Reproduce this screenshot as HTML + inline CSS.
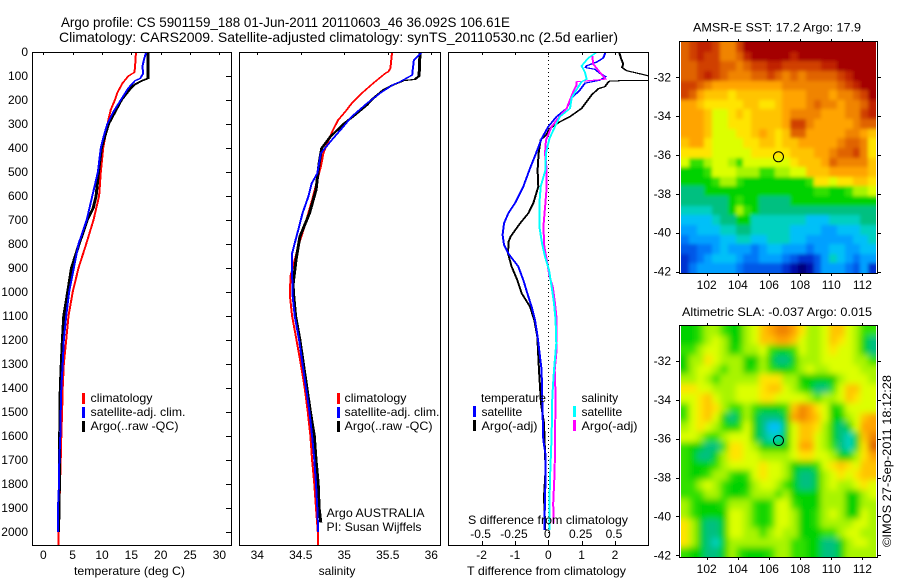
<!DOCTYPE html>
<html>
<head>
<meta charset="utf-8">
<title>Argo profile</title>
<style>
html,body{margin:0;padding:0;background:#fff;}
svg{display:block;}
text{font-family:"Liberation Sans",sans-serif;font-size:12px;fill:#000;}
.title{font-size:14px;}
</style>
</head>
<body>
<svg id="chart" xmlns="http://www.w3.org/2000/svg" width="900" height="580" viewBox="0 0 900 580">
<rect x="0" y="0" width="900" height="580" fill="#fff"/>
<defs>
<clipPath id="clip1"><rect x="32" y="52" width="199" height="493"/></clipPath>
<clipPath id="clip2"><rect x="239" y="52" width="201" height="493"/></clipPath>
<clipPath id="clip3"><rect x="448" y="52" width="200" height="493"/></clipPath>
<clipPath id="clip-sst"><rect x="681" y="42" width="195" height="231"/></clipPath>
<clipPath id="clip-sla"><rect x="681" y="326" width="195" height="231"/></clipPath>
<filter id="blur-sst" filterUnits="userSpaceOnUse" x="640" y="0" width="280" height="310"><feGaussianBlur stdDeviation="1.8"/></filter>
<filter id="blur-sla" filterUnits="userSpaceOnUse" x="640" y="290" width="280" height="290"><feGaussianBlur stdDeviation="3.2"/></filter>
</defs>
<text class="title" x="61" y="27" textLength="449" lengthAdjust="spacingAndGlyphs">Argo profile: CS 5901159_188 01-Jun-2011 20110603_46 36.092S 106.61E</text>
<text class="title" x="59" y="42" textLength="559" lengthAdjust="spacingAndGlyphs">Climatology: CARS2009. Satellite-adjusted climatology: synTS_20110530.nc (2.5d earlier)</text>
<g id="marks"></g>
<g id="overlay">
<text x="74" y="575" textLength="111" lengthAdjust="spacingAndGlyphs">temperature (deg C)</text>
<text x="337" y="575" text-anchor="middle">salinity</text>
<text x="467" y="575" textLength="159" lengthAdjust="spacingAndGlyphs">T difference from climatology</text>
<text x="468" y="524" textLength="160" lengthAdjust="spacingAndGlyphs">S difference from climatology</text>

<rect x="82" y="393" width="3" height="11" fill="#f00"/>
<rect x="82" y="407" width="3" height="11" fill="#00f"/>
<rect x="82" y="421" width="3" height="11" fill="#000"/>
<text x="90.5" y="402" textLength="62" lengthAdjust="spacingAndGlyphs">climatology</text>
<text x="90.5" y="416" textLength="95" lengthAdjust="spacingAndGlyphs">satellite-adj. clim.</text>
<text x="90.5" y="430" textLength="88" lengthAdjust="spacingAndGlyphs">Argo(..raw -QC)</text>

<rect x="337" y="393" width="3" height="11" fill="#f00"/>
<rect x="337" y="407" width="3" height="11" fill="#00f"/>
<rect x="337" y="421" width="3" height="11" fill="#000"/>
<text x="344.5" y="402" textLength="62" lengthAdjust="spacingAndGlyphs">climatology</text>
<text x="344.5" y="416" textLength="95" lengthAdjust="spacingAndGlyphs">satellite-adj. clim.</text>
<text x="344.5" y="430" textLength="88" lengthAdjust="spacingAndGlyphs">Argo(..raw -QC)</text>

<text x="326.5" y="517" textLength="98" lengthAdjust="spacingAndGlyphs">Argo AUSTRALIA</text>
<text x="326.5" y="531" textLength="95" lengthAdjust="spacingAndGlyphs">PI: Susan Wijffels</text>

<text x="481" y="402" textLength="65" lengthAdjust="spacingAndGlyphs">temperature</text>
<text x="481.5" y="416">satellite</text>
<text x="481.5" y="430" textLength="56" lengthAdjust="spacingAndGlyphs">Argo(-adj)</text>
<text x="581.5" y="402">salinity</text>
<text x="581.5" y="416">satellite</text>
<text x="581.5" y="430" textLength="56" lengthAdjust="spacingAndGlyphs">Argo(-adj)</text>
<rect x="473" y="406" width="3" height="11" fill="#00f"/>
<rect x="473" y="420" width="3" height="11" fill="#000"/>
<rect x="573" y="406" width="3" height="11" fill="#0ff"/>
<rect x="573" y="420" width="3" height="11" fill="#f0f"/>

<text x="693" y="31.5" textLength="168" lengthAdjust="spacingAndGlyphs">AMSR-E SST: 17.2 Argo: 17.9</text>
<text x="682" y="316" textLength="190" lengthAdjust="spacingAndGlyphs">Altimetric SLA: -0.037 Argo: 0.015</text>
<text transform="translate(891,547) rotate(-90)" textLength="172" lengthAdjust="spacingAndGlyphs">©IMOS 27-Sep-2011 18:12:28</text>
</g>
</svg>
<script>
// ---- shared axis ticks
const depthTicks = [0,100,200,300,400,500,600,700,800,900,1000,1100,1200,1300,1400,1500,1600,1700,1800,1900,2000];
const tempTicks = [0,5,10,15,20,25,30];
const salTicks = [34,34.5,35,35.5,36];
const salTickLabels = ['34','34.5','35','35.5','36'];
const tDiffTicks = [-2,-1,0,1,2];
const sDiffTicks = [-0.5,-0.25,0,0.25,0.5];
const sDiffTickLabels = ['-0.5','-0.25','0','0.25','0.5'];
const lonTicks = [102,104,106,108,110,112];
const latTicks = [-32,-34,-36,-38,-40,-42];
const argoLon = 106.61;
const argoLat = -36.092;

// ---- temperature panel
const tempClimDepth = [0,70,85,100,130,170,200,240,280,320,400,500,600,700,800,900,1000,1100,1200,1300,1400,1500,1600,1700,1800,1900,2000,2054];
const tempClimValue = [15.8,15.6,15.5,14.5,13.5,12.6,12.2,11.5,11.1,10.8,10.2,9.8,9.5,8.55,7.3,6,5,4.3,3.9,3.5,3.3,3.2,3.07,2.96,2.85,2.75,2.55,2.55];
const tempArgoDepth = [0,110,120,135,150,200,250,300,350,400,500,600,650,700,800,900,1000,1100,1200,1300,1400,1500,1600,1700,1800,1900,2000];
const tempArgoValue = [17.8,17.8,16.8,15.6,14.9,13.3,12.2,11.1,10.5,9.9,9.4,9,8.5,7.5,6.1,4.8,4.15,3.5,3.25,3.07,2.9,2.85,2.8,2.75,2.75,2.65,2.6];
const tempSatDepth = [0,30,60,90,110,120,150,200,250,300,350,400,500,600,700,800,900,1000,1100,1200,1300,1400,1500,1600,1700,1800,1900,2000];
const tempSatValue = [17.55,17.15,16.9,17,16.5,15.6,14.5,13.2,11.9,10.9,10.3,9.8,9.3,8.35,7.4,6,5.2,4.4,3.9,3.5,3.3,3.07,2.96,2.9,2.73,2.67,2.5,2.5];

// ---- salinity panel
const salClimDepth = [0,68,82,89,131,172,214,249,283,325,367,422,478,533,603,672,742,811,881,936,1019,1100,1200,1300,1400,1500,1600,1700,1800,1900,2000,2054];
const salClimValue = [35.55,35.53,35.506,35.47,35.33,35.2,35.085,35.01,34.93,34.87,34.82,34.76,34.73,34.69,34.64,34.586,34.53,34.47,34.42,34.38,34.376,34.4,34.45,34.5,34.545,34.58,34.61,34.63,34.655,34.675,34.695,34.7];
const salArgoDepth = [0,100,114,119,137,158,200,221,269,297,353,401,464,575,672,769,867,971,1019,1100,1200,1300,1400,1500,1600,1700,1800,1900,1960];
const salArgoValue = [35.87,35.86,35.81,35.68,35.56,35.45,35.31,35.26,35.1,35,34.84,34.74,34.71,34.675,34.6,34.49,34.445,34.41,34.42,34.44,34.49,34.53,34.57,34.61,34.655,34.675,34.7,34.71,34.73];
const salSatDepth = [0,2,33,75,96,124,137,172,214,269,311,367,422,506,547,603,672,728,783,839,922,1019,1100,1200,1300,1400,1500,1600,1700,1800,1900,2000];
const salSatValue = [35.7,35.89,35.8,35.786,35.78,35.64,35.556,35.41,35.26,35.085,34.99,34.855,34.73,34.69,34.625,34.586,34.52,34.48,34.44,34.4,34.4,34.407,34.43,34.48,34.52,34.56,34.6,34.63,34.655,34.675,34.69,34.7];

// ---- difference panel
const dTArgoDepth = [0,33,50,64,78,89,99,103,117,119,120,126,144,153,179,207,235,269,290,318,346,367,422,492,561,630,672,714,769,790,839,894,950,1005,1061,1117,1186,1325,1464,1547,1742,1853,1992];
const dTArgoValue = [2.12,2.2,2.25,2.21,2.35,2.7,3,3.5,3.5,3,1.85,1.8,1.7,1.5,1.3,1.15,1,0.65,0.36,0.05,-0.07,-0.23,-0.29,-0.32,-0.3,-0.45,-0.6,-0.85,-1.13,-1.19,-1.21,-1.1,-0.93,-0.8,-0.55,-0.42,-0.33,-0.28,-0.22,-0.13,-0.08,-0.13,-0.09];
const dTSatDepth = [0,25,42,58,65,72,89,103,117,130,158,192,235,269,311,361,422,485,561,630,672,714,762,803,839,894,950,1005,1061,1117,1186,1325,1464,1617,1672,1811,1992];
const dTSatValue = [1.72,1.65,1.45,1.14,1.12,1.4,1.55,1.72,1.55,1.1,0.95,0.7,0.55,0.25,0,-0.2,-0.37,-0.55,-0.75,-1,-1.2,-1.33,-1.37,-1.33,-1.2,-0.9,-0.75,-0.63,-0.5,-0.4,-0.32,-0.2,-0.18,-0.15,-0.09,-0.09,-0.12];
const dSSatDepth = [0,1,25,58,85,113,124,158,192,235,269,311,361,422,492,561,630,727,797,852,908,977,1047,1117,1214,1325,1436,1603,1742,1881,1992];
const dSSatValue = [0.15,0.363,0.3,0.25,0.275,0.288,0.25,0.21,0.175,0.163,0.088,0.05,0.008,-0.017,-0.022,-0.057,-0.067,-0.067,-0.047,-0.025,0.005,0.025,0.043,0.055,0.06,0.043,0.03,0.025,0.015,0.008,0.008];
const dSArgoDepth = [17,50,85,113,119,124,137,158,199,235,269,311,367,422,492,561,630,727,811,880,935,977,1047,1117,1255,1325,1436,1603,1742,1881,1964];
const dSArgoValue = [0.33,0.337,0.388,0.43,0.313,0.21,0.213,0.193,0.163,0.138,0.083,0.025,-0.017,-0.025,-0.012,-0.012,-0.022,-0.037,-0.03,-0.007,0.008,0.033,0.05,0.063,0.06,0.048,0.055,0.05,0.048,0.037,0.04];

// ---- maps: colour level 0 (navy) .. 20 (dark red), rows run north to south
const sstLevels = [
[17,18,19,19,18,16,16,18,20,20,20,20,20,20,20,20,20,20,20,20,20,20,20,20,20],
[17,18,19,18,18,16,16,17,19,20,20,20,20,20,19,20,20,20,20,20,20,20,20,20,20],
[17,17,18,18,18,17,17,16,17,18,18,19,19,18,18,18,18,18,19,19,20,20,20,20,20],
[17,17,18,19,18,17,16,16,16,17,17,18,17,16,17,16,17,17,17,17,18,19,20,20,20],
[18,18,17,16,15,15,15,15,15,15,15,15,15,16,16,16,16,16,16,16,17,18,19,20,20],
[18,17,15,14,14,14,13,14,14,14,14,14,14,15,15,15,16,16,16,15,16,16,17,18,20],
[15,15,14,13,13,13,13,13,14,14,13,13,14,15,15,15,16,17,16,16,15,16,16,17,19],
[15,15,15,14,12,12,13,14,13,14,14,14,14,15,16,16,16,16,15,15,15,16,16,18,19],
[15,15,15,14,12,12,13,13,13,14,14,14,14,15,18,18,16,15,15,15,15,15,16,17,17],
[15,15,15,14,12,12,12,13,13,14,15,14,13,14,17,17,15,15,15,15,15,16,16,15,14],
[14,15,15,13,12,12,12,12,13,13,14,14,13,14,14,15,15,15,15,15,16,17,17,16,13],
[13,13,13,13,12,12,12,12,12,13,13,13,13,13,14,14,14,15,15,16,17,17,18,16,13],
[12,10,10,11,12,12,11,10,12,12,12,12,12,12,13,14,14,14,15,17,16,16,16,16,14],
[9,9,9,10,12,12,12,11,11,11,10,10,11,11,12,12,14,14,14,15,15,15,15,15,14],
[9,9,9,9,10,11,11,10,9,9,9,9,9,9,9,9,10,13,13,12,13,13,14,14,13],
[8,8,8,9,9,9,9,9,9,9,9,9,9,9,9,9,9,10,10,9,9,10,11,11,12],
[8,8,8,8,8,8,9,10,9,9,8,8,8,8,9,9,9,9,9,9,9,9,9,9,9],
[7,7,7,7,8,8,9,11,10,9,8,8,8,8,8,8,8,8,8,8,8,8,8,8,8],
[6,6,6,6,7,8,8,9,9,7,7,7,7,7,7,7,6,6,6,7,7,7,7,8,8],
[5,5,6,6,6,7,7,8,8,7,7,7,7,7,6,6,6,6,5,5,6,6,6,7,7],
[4,5,5,5,5,6,6,7,7,6,6,7,7,7,6,6,5,5,5,5,5,5,6,6,7],
[3,3,4,4,5,6,5,5,5,4,5,6,6,5,5,5,4,5,5,6,6,5,5,6,6],
[2,3,4,5,6,6,6,5,4,4,5,5,5,4,3,2,2,3,5,7,6,5,4,5,5],
[2,4,5,5,5,5,5,4,3,3,3,3,3,2,1,0,1,3,5,5,5,4,3,5,2]
];
const slaLevels = [
[9,9,10,11,11,10,9,9,11,12,14,15,16,16,15,13,11,11,12,14,14,12,11,10,10],
[9,9,10,11,12,11,9,9,11,12,14,14,15,15,14,12,11,11,12,14,13,12,11,9,8],
[10,10,11,12,12,11,9,10,11,11,12,10,9,9,10,12,11,11,12,13,12,12,11,9,8],
[9,11,11,13,12,11,11,11,9,9,11,9,8,8,9,11,11,11,12,12,12,12,11,11,10],
[9,11,12,12,11,10,11,11,9,10,11,10,9,9,10,11,12,11,11,12,12,12,12,11,11],
[11,11,12,11,10,11,11,11,11,11,13,13,13,11,11,9,9,9,9,9,11,12,12,12,11],
[13,13,12,12,11,11,11,12,12,12,13,14,14,12,11,10,9,8,8,10,12,14,14,12,12],
[12,12,13,14,12,11,11,12,12,12,13,13,12,12,12,12,11,10,11,11,12,14,13,12,12],
[10,12,13,14,13,11,10,10,11,10,9,9,9,10,14,16,15,13,12,9,10,12,12,12,12],
[10,12,13,14,12,9,8,9,11,9,8,8,8,9,15,16,15,14,12,9,9,11,12,14,15],
[11,12,13,12,11,10,9,10,12,9,8,6,6,9,12,14,14,13,11,9,8,9,12,15,15],
[12,12,11,10,10,11,12,12,12,9,8,7,7,9,12,14,14,12,11,9,8,7,9,14,16],
[10,9,9,8,8,10,13,13,12,11,9,9,9,9,12,15,15,12,11,10,8,7,9,13,17],
[10,9,8,8,9,11,13,13,12,12,11,11,11,11,12,13,13,12,12,11,9,9,11,13,15],
[10,9,9,9,10,11,12,12,12,12,13,12,12,11,9,9,9,10,12,13,14,13,12,14,14],
[10,9,9,10,11,11,10,9,10,12,13,12,12,11,9,8,8,9,11,12,13,12,13,14,14],
[10,10,11,12,11,10,9,9,9,11,12,12,11,10,9,8,8,9,11,12,11,11,12,13,12],
[10,10,10,11,11,10,9,9,10,11,11,11,10,11,9,9,9,9,11,11,11,9,9,11,12],
[11,10,9,9,9,10,11,11,11,10,9,10,12,12,10,9,9,9,11,11,11,9,9,11,11],
[11,10,9,9,9,9,12,12,11,10,9,10,12,12,11,9,9,10,11,12,11,9,9,12,11],
[13,11,9,8,8,9,12,12,11,10,9,10,12,12,11,9,9,10,11,11,11,11,12,12,11],
[13,11,9,8,8,9,12,12,11,11,10,11,12,11,11,9,9,9,10,10,11,12,12,11,11],
[13,11,9,8,7,9,11,11,11,11,11,11,11,11,10,10,9,9,8,8,9,11,12,12,11],
[10,9,9,8,8,9,11,10,9,9,9,10,11,11,10,10,9,9,8,8,9,11,11,11,11]
];
const levelColors = ['#00007a','#000ca8','#0030d0','#0058e8','#0078f8','#00a0ff','#00c0f8','#00d0c0','#00c080','#00d200','#30e000','#a8f400','#dcff00','#ffe400','#ffc400','#ffa400','#f08400','#e06400','#d04000','#c02400','#a40000'];

// ---- helpers
const NS = 'http://www.w3.org/2000/svg';
const marks = document.getElementById('marks');
function make(tag, attrs, parent) {
  const e = document.createElementNS(NS, tag);
  for (const k in attrs) e.setAttribute(k, attrs[k]);
  (parent || marks).appendChild(e);
  return e;
}
const depthY = d => 52 + d * 0.24;
const tempX = t => 43.3 + t * 5.87;
const salX = s => 257.3 + (s - 34) * 87;
const tDiffX = t => 548.3 + t * 33.33;
const sDiffX = s => 548.3 + s * 133.3;

// The pen is wider horizontally than vertically: one 1px trace per pen column.
function drawProfile(depths, values, xFn, color, penColumns, clip, name) {
  let d = '';
  for (let k = 0; k < penColumns; k++) {
    const off = k - (penColumns - 1) / 2;
    d += 'M' + depths.map((dep, i) => (xFn(values[i]) + off).toFixed(1) + ' ' + depthY(dep).toFixed(1)).join('L');
  }
  const line = make('path', {d: d, fill: 'none', stroke: color, 'stroke-width': 1, 'clip-path': 'url(#' + clip + ')', 'shape-rendering': 'crispEdges'});
  
  
}

function drawFrame(x, y, w, h, name) {
  const f = make('rect', {x: x + 0.5, y: y + 0.5, width: w, height: h, fill: 'none', stroke: '#000', 'stroke-width': 1, 'shape-rendering': 'crispEdges'});
  
  
}

function drawTick(x1, y1, x2, y2, name) {
  const t = make('line', {x1: x1, y1: y1, x2: x2, y2: y2, stroke: '#000', 'stroke-width': 1, 'shape-rendering': 'crispEdges'});
  
  
}

function drawLabel(x, y, str, anchor, name) {
  const t = make('text', {x: x, y: y, 'text-anchor': anchor});
  t.textContent = str;
  
  
}

// ---- panel 1
drawProfile(tempClimDepth, tempClimValue, tempX, '#f00', 2, 'clip1', 'temperature-climatology-line');
drawProfile(tempArgoDepth, tempArgoValue, tempX, '#000', 3, 'clip1', 'temperature-argo-line');
drawProfile(tempSatDepth, tempSatValue, tempX, '#00f', 2, 'clip1', 'temperature-satellite-line');
drawFrame(32, 52, 199, 493, 'temperature-panel-frame');
depthTicks.forEach(d => {
  drawTick(226, Math.round(depthY(d)) + 0.5, 231, Math.round(depthY(d)) + 0.5, 'depth-tick');
  drawLabel(28, depthY(d) + 4, String(d), 'end', 'depth-tick-label');
});
tempTicks.forEach(t => {
  drawTick(Math.round(tempX(t)) + 0.5, 52, Math.round(tempX(t)) + 0.5, 55, 'temperature-tick');
  drawLabel(tempX(t), 559, String(t), 'middle', 'temperature-tick-label');
});

// ---- panel 2
drawProfile(salClimDepth, salClimValue, salX, '#f00', 2, 'clip2', 'salinity-climatology-line');
drawProfile(salArgoDepth, salArgoValue, salX, '#000', 3, 'clip2', 'salinity-argo-line');
drawProfile(salSatDepth, salSatValue, salX, '#00f', 2, 'clip2', 'salinity-satellite-line');
drawFrame(239, 52, 201, 493, 'salinity-panel-frame');
salTicks.forEach((s, i) => {
  drawTick(Math.round(salX(s)) + 0.5, 52, Math.round(salX(s)) + 0.5, 55, 'salinity-tick');
  drawLabel(salX(s), 559, salTickLabels[i], 'middle', 'salinity-tick-label');
});

// ---- panel 3
const zero = make('line', {x1: 548.5, y1: 52, x2: 548.5, y2: 545, stroke: '#000', 'stroke-width': 1, 'stroke-dasharray': '1 3', 'shape-rendering': 'crispEdges'});


drawProfile(dTArgoDepth, dTArgoValue, tDiffX, '#000', 2, 'clip3', 't-difference-argo-line');
drawProfile(dTSatDepth, dTSatValue, tDiffX, '#00f', 2, 'clip3', 't-difference-satellite-line');
drawProfile(dSArgoDepth, dSArgoValue, sDiffX, '#f0f', 2, 'clip3', 's-difference-argo-line');
drawProfile(dSSatDepth, dSSatValue, sDiffX, '#0ff', 2, 'clip3', 's-difference-satellite-line');
drawFrame(448, 52, 200, 493, 'difference-panel-frame');
tDiffTicks.forEach(t => {
  const px = Math.round(tDiffX(t)) + 0.5;
  drawTick(px, 52, px, 55, 'difference-top-tick');
  drawTick(px, 541, px, 545, 'difference-bottom-tick');
  drawLabel(tDiffX(t), 559, String(t), 'middle', 't-difference-tick-label');
});
sDiffTicks.forEach((s, i) => {
  drawLabel(sDiffX(s) - 1, 538, sDiffTickLabels[i], 'middle', 's-difference-tick-label');
});

// ---- maps
function drawMap(levels, left, top, lat32Y, keyName) {
  const lonX = lon => 706.7 + (lon - 102) * 15.57;
  const latY = lat => lat32Y + (-32 - lat) * 19.43;
  const imgL = 681, imgR = 876, imgT = top + 1, imgB = top + 232;
  const cellW = (imgR - imgL) / levels[0].length;
  const cellH = (imgB - imgT) / levels.length;
  const clipGroup = make('g', {'clip-path': 'url(#clip-' + keyName + ')'});
  
  
  const blurGroup = make('g', {filter: 'url(#blur-' + keyName + ')'}, clipGroup);
  
  
  const nR = levels.length, nC = levels[0].length;
  const bleed = 14; // edge cells extend past the clip so smoothing does not fade at the border
  levels.forEach((row, r) => {
    row.forEach((lv, c) => {
      const x0 = Math.round(imgL + c * cellW) - (c === 0 ? bleed : 0);
      const x1 = Math.round(imgL + (c + 1) * cellW) + (c === nC - 1 ? bleed : 0);
      const y0 = Math.round(imgT + r * cellH) - (r === 0 ? bleed : 0);
      const y1 = Math.round(imgT + (r + 1) * cellH) + (r === nR - 1 ? bleed : 0);
      const cell = make('rect', {x: x0, y: y0, width: x1 - x0, height: y1 - y0, fill: levelColors[lv], 'shape-rendering': 'crispEdges'}, blurGroup);
      
      
    });
  });
  drawFrame(left, top, 198, 232, keyName + '-map-frame');
  lonTicks.forEach(lon => {
    const px = Math.round(lonX(lon)) + 0.5;
    drawTick(px, top - 2, px, top, keyName + '-lon-tick');
    drawTick(px, top + 233, px, top + 235, keyName + '-lon-tick');
    drawLabel(lonX(lon), top + 248, String(lon), 'middle', keyName + '-lon-label');
  });
  latTicks.forEach(lat => {
    const py = Math.round(latY(lat)) + 0.5;
    drawTick(left - 3, py, left, py, keyName + '-lat-tick');
    drawTick(left + 199, py, left + 202, py, keyName + '-lat-tick');
    drawLabel(671, latY(lat) + 4, String(lat), 'end', keyName + '-lat-label');
  });
  const circle = make('circle', {cx: lonX(argoLon), cy: latY(argoLat), r: 5, fill: 'none', stroke: '#000', 'stroke-width': 1});
  
  
}
drawMap(sstLevels, 679, 41, 77.3, 'sst');
drawMap(slaLevels, 679, 325, 361, 'sla');
</script>
</body>
</html>
